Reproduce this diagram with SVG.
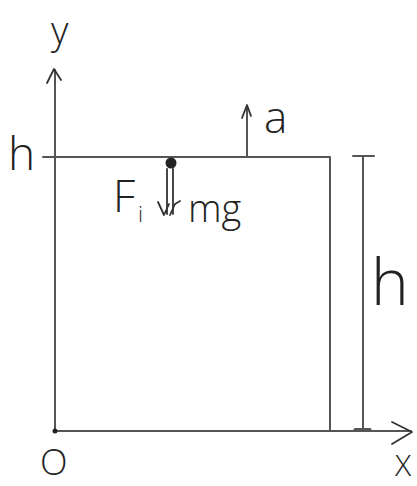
<svg xmlns="http://www.w3.org/2000/svg" width="417" height="486" viewBox="0 0 417 486">
<style>
.ln{stroke:#555;stroke-width:2;fill:none;stroke-linecap:round;stroke-linejoin:round}
.hd{stroke:#333;stroke-width:1.8;fill:none;stroke-linecap:round;stroke-linejoin:round}
.t{font-family:"Open Sans","Liberation Sans",sans-serif;font-weight:300;fill:#222}
</style>
<rect width="417" height="486" fill="#fff"/>
<g id="connectors">
<path class="ln" d="M55 431 V70"/>
<path class="hd" d="M47 83 L54 69 L61 80"/>
<path class="ln" d="M55 431 H411"/>
<path class="hd" d="M392 422 L412 432 L392 444"/>
<path class="ln" d="M247 157 V106"/>
<path class="hd" d="M242 118 L247 105 L251 116"/>
<path class="ln" d="M363 156 V430"/>
<path class="ln" d="M353 156 H374"/>
<path class="ln" d="M355 429.5 H370" style="stroke-width:3"/>
</g>
<g id="box">
<path class="ln" d="M43 157 H330 V431 M55 157 V431"/>
<circle cx="55" cy="431" r="2.5" fill="#222"/>
</g>
<g id="particle">
<circle cx="171" cy="163" r="5.5" fill="#222"/>
<path class="hd" d="M167 169 V214 M173 169 V214"/>
<path class="hd" d="M158 202 L164 215 L169 204 M170 215 L175 204 L180 201"/>
</g>
<g id="labels">
<text class="t" x="51" y="44" font-size="38">y</text>
<text class="t" x="8" y="170" font-size="46">h</text>
<text class="t" x="113" y="212" font-size="44">F</text>
<text class="t" x="138" y="222" font-size="22">i</text>
<text class="t" x="188" y="222" font-size="38">mg</text>
<text class="t" x="264" y="133" font-size="44">a</text>
<text class="t" x="371" y="305" font-size="64">h</text>
<text class="t" x="40" y="475" font-size="36">O</text>
<text class="t" x="395" y="476" font-size="30">X</text>
</g>
</svg>
